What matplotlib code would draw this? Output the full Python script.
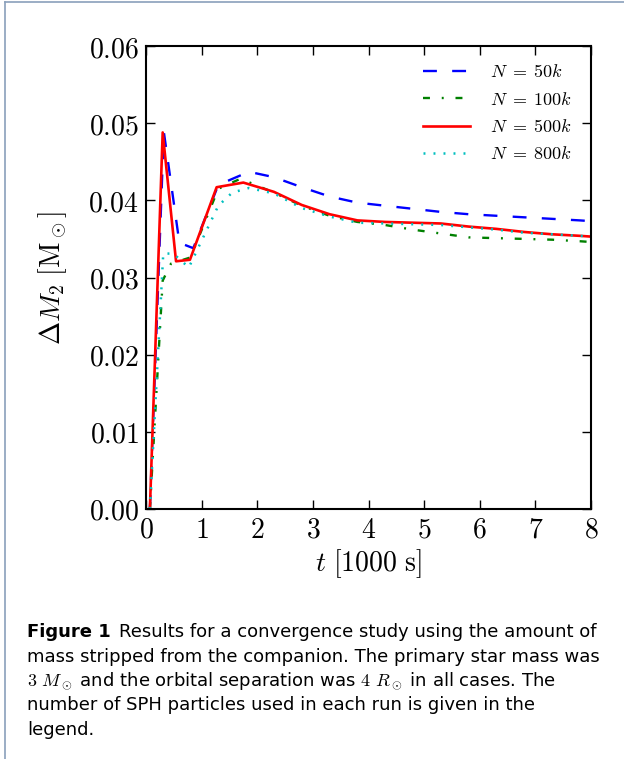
import matplotlib
matplotlib.use("Agg")
import matplotlib.pyplot as plt
from matplotlib.ticker import FuncFormatter
from matplotlib.lines import Line2D

plt.rcParams['mathtext.fontset'] = 'cm'
plt.rcParams['lines.scale_dashes'] = False

# time [1000 s] and stripped mass [Msun]
t_50k = [0.07, 0.32, 0.6, 0.85, 1.3, 1.85, 2.3, 2.8, 3.3, 3.8, 4.3, 4.8, 5.3, 5.8, 6.3, 6.8, 7.3, 7.8, 8.0]
m_50k = [0.0, 0.0489, 0.0345, 0.0338, 0.0420, 0.0437, 0.0430, 0.0417, 0.0405, 0.0397, 0.0393,
         0.0389, 0.0385, 0.0382, 0.0380, 0.0378, 0.0376, 0.0374, 0.0373]

t_100k = [0.07, 0.3, 0.45, 0.8, 1.3, 1.7, 2.3, 2.8, 3.3, 3.8, 4.3, 4.8, 5.3, 5.8, 6.3, 6.8, 7.3, 7.8, 8.0]
m_100k = [0.0, 0.0296, 0.0318, 0.0326, 0.0415, 0.0428, 0.0410, 0.0393, 0.0380, 0.0372,
          0.0368, 0.0362, 0.0357, 0.0352, 0.0351, 0.0350, 0.0349, 0.0347, 0.0346]

t_500k = [0.07, 0.3, 0.54, 0.79, 1.27, 1.75, 2.3, 2.8, 3.3, 3.8, 4.3, 4.8, 5.3, 5.8, 6.3, 6.8, 7.3, 7.8, 8.0]
m_500k = [0.0, 0.0488, 0.0321, 0.0323, 0.0417, 0.0423, 0.0411, 0.0394, 0.0382, 0.0374,
          0.0372, 0.0371, 0.0370, 0.0366, 0.0363, 0.0359, 0.0356, 0.0354, 0.0353]

t_800k = [0.07, 0.31, 0.49, 0.77, 1.3, 1.55, 1.85, 2.3, 2.8, 3.3, 3.8, 4.3, 4.8, 5.3, 5.8, 6.3, 6.8, 7.3, 7.8, 8.0]
m_800k = [0.0, 0.0331, 0.0331, 0.0313, 0.0393, 0.0410, 0.0416, 0.0409, 0.0390, 0.0379,
          0.0371, 0.0370, 0.0369, 0.0368, 0.0365, 0.0362, 0.0358, 0.0356, 0.0354, 0.0353]

labels = [r'$N\;=\;50k$', r'$N\;=\;100k$', r'$N\;=\;500k$', r'$N\;=\;800k$']

fig = plt.figure(figsize=(6.24, 7.59), dpi=100)
W, H = 624.0, 759.0
ax = fig.add_axes([146 / W, 1 - 509 / H, 445 / W, 463 / H])

l1, = ax.plot(t_50k, m_50k, color='#0000ff', lw=1.7, label=labels[0])
l1.set_dashes([10, 11])
l2, = ax.plot(t_100k, m_100k, color='#008000', lw=1.7, label=labels[1])
l2.set_dashes([5, 8.5, 1.4, 8.5])
ax.plot(t_500k, m_500k, color='#ff0000', lw=1.9, label=labels[2])
l4, = ax.plot(t_800k, m_800k, color='#00bfbf', lw=1.8, label=labels[3])
l4.set_dashes([1.4, 5.8])

ax.set_xlim(0, 8)
ax.set_ylim(0, 0.06)
ax.set_xticks(range(0, 9))
ax.set_yticks([0, 0.01, 0.02, 0.03, 0.04, 0.05, 0.06])
ax.xaxis.set_major_formatter(FuncFormatter(lambda v, p: r'$%d$' % round(v)))
ax.yaxis.set_major_formatter(FuncFormatter(lambda v, p: r'$%.2f$' % v))
ax.tick_params(direction='in', top=True, right=True, length=6.5, width=1,
               labelsize=20, pad=5)
for s in ax.spines.values():
    s.set_linewidth(1.5)

ax.set_xlabel(r'$t\ [1000\ \mathrm{s}]$', fontsize=20, labelpad=2)
ax.set_ylabel(r'$\Delta M_2\ [\mathrm{M}_\odot]$', fontsize=20, labelpad=14)

ax.legend(loc='upper right', frameon=False, fontsize=13, handlelength=2.6,
          labelspacing=0.52, handletextpad=1.1, borderaxespad=0.3,
          bbox_to_anchor=(0.985, 0.99))

# page frame
fc = '#8aa0bb'
fig.add_artist(Line2D([5 / W, 5 / W], [0, 1 - 2 / H], color=fc, lw=1.2, transform=fig.transFigure))
fig.add_artist(Line2D([5 / W, 1], [1 - 2 / H, 1 - 2 / H], color=fc, lw=1.2, transform=fig.transFigure))

# caption
cap_font = 'DejaVu Sans'
cs = 13
x0 = 27 / W
base = [637, 661.5, 686, 710.5, 735]
t1 = fig.text(x0, 1 - base[0] / H, 'Figure 1', fontsize=cs, fontweight='bold',
              family=cap_font, va='baseline')
fig.canvas.draw()
bb = t1.get_window_extent(renderer=fig.canvas.get_renderer())
fig.text(bb.x1 / W + 8 / W, 1 - base[0] / H,
         'Results for a convergence study using the amount of',
         fontsize=cs, family=cap_font, va='baseline')
rest = ['mass stripped from the companion. The primary star mass was',
        r'$3\ M_\odot$ and the orbital separation was $4\ R_\odot$ in all cases. The',
        'number of SPH particles used in each run is given in the',
        'legend.']
for i, line in enumerate(rest):
    fig.text(x0, 1 - base[i + 1] / H, line, fontsize=cs, family=cap_font, va='baseline')

fig.savefig('out.png', dpi=100)
